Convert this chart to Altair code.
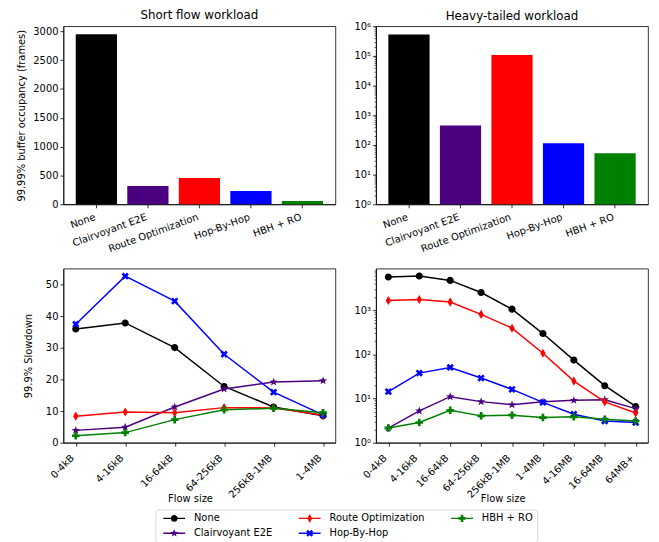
import math
import altair as alt
import pandas as pd

# ---------------- data ----------------
series = ["None", "Clairvoyant E2E", "Route Optimization", "Hop-By-Hop", "HBH + RO"]
series_colors = ["#000000", "#4b0082", "#ff0000", "#0000ff", "#008000"]

short_buffer = [2948, 316, 454, 230, 57]
heavy_buffer = [525000, 451, 107000, 113, 52]

short_sizes = ["0-4kB", "4-16kB", "16-64kB", "64-256kB", "256kB-1MB", "1-4MB"]
short_none = [36.0, 37.9, 30.1, 17.8, 11.3, 8.5]
short_clair = [3.9, 4.9, 11.3, 17.0, 19.2, 19.6]
short_ro = [8.4, 9.7, 9.5, 11.1, 11.0, 8.8]
short_hbh = [37.5, 52.7, 44.8, 28.0, 16.0, 8.8]
short_hbhro = [2.2, 3.2, 7.3, 10.4, 10.9, 9.5]

heavy_sizes = ["0-4kB", "4-16kB", "16-64kB", "64-256kB", "256kB-1MB",
               "1-4MB", "4-16MB", "16-64MB", "64MB+"]
heavy_none = [5600, 5900, 4700, 2500, 1050, 295, 74, 19.5, 6.6]
heavy_clair = [2.14, 5.25, 11.0, 8.5, 7.2, 8.4, 9.1, 9.4, 5.9]
heavy_ro = [1650, 1740, 1520, 800, 390, 106, 24.8, 8.4, 4.7]
heavy_hbh = [14.3, 37.6, 50.5, 29.0, 16.1, 8.2, 4.4, 3.1, 2.87]
heavy_hbhro = [2.14, 2.87, 5.4, 4.05, 4.2, 3.7, 3.85, 3.4, 3.1]

short_slow = [short_none, short_clair, short_ro, short_hbh, short_hbhro]
heavy_slow = [heavy_none, heavy_clair, heavy_ro, heavy_hbh, heavy_hbhro]

# ---------------- marker shapes (pixel units, symbol size 4 -> scale 1) ----------------
def orient(pts):
    a = sum(pts[i][0] * pts[(i + 1) % len(pts)][1] - pts[(i + 1) % len(pts)][0] * pts[i][1]
            for i in range(len(pts)))
    return pts if a > 0 else pts[::-1]

def poly(pts, k=1.0):
    pts = orient(pts)
    return "M" + "L".join(f"{x * k:.3f},{y * k:.3f}" for x, y in pts) + "Z"

def circle(r):
    return f"M{r:.3f},0A{r:.3f},{r:.3f} 0 1,1 {-r:.3f},0A{r:.3f},{r:.3f} 0 1,1 {r:.3f},0Z"

def star(ro, ri):
    pts = []
    for i in range(10):
        ang = -math.pi / 2 + i * math.pi / 5
        r = ro if i % 2 == 0 else ri
        pts.append((r * math.cos(ang), r * math.sin(ang)))
    return pts

def xshape(a, h):
    d = h * math.sqrt(2)
    return [(-a, -a + d), (-a + d, -a), (0, -d), (a - d, -a), (a, -a + d), (d, 0),
            (a, a - d), (a - d, a), (0, d), (-a + d, a), (-a, a - d), (-d, 0)]

def plus(a, h):
    return [(-h, -a), (h, -a), (h, -h), (a, -h), (a, h), (h, h), (h, a), (-h, a),
            (-h, h), (-a, h), (-a, -h), (-h, -h)]

diamond = [(0, -4.6), (2.7, 0), (0, 4.6), (-2.7, 0)]

def marker_path(name, k=1.0):
    if name == "None":
        return circle(3.6 * k)
    if name == "Clairvoyant E2E":
        return poly(star(4.4, 1.8), k)
    if name == "Route Optimization":
        return poly(diamond, k)
    if name == "Hop-By-Hop":
        return poly(xshape(3.7, 1.35), k)
    return poly(plus(3.8, 1.35), k)

marker_paths = {s: marker_path(s) for s in series}
stub = poly([(-11, -0.75), (11, -0.75), (11, 0.75), (-11, 0.75)])
legend_paths = [stub + marker_path(s, 0.95) for s in series]
color_of = dict(zip(series, series_colors))

# ---------------- frames ----------------
bar_short = pd.DataFrame({"series": series, "value": short_buffer})
bar_heavy = pd.DataFrame({"series": series, "value": heavy_buffer})

def slow_df(sizes, vals):
    rows = []
    for s, v in zip(series, vals):
        for sz, y in zip(sizes, v):
            rows.append({"series": s, "size": sz, "value": y})
    return pd.DataFrame(rows)

df_short = slow_df(short_sizes, short_slow)
df_heavy = slow_df(heavy_sizes, heavy_slow)

# ---------------- axes ----------------
IS_MAJOR = "abs(log(datum.value)/LN10 - round(log(datum.value)/LN10)) < 1e-6"
SUP = "['\u2070','\u00b9','\u00b2','\u00b3','\u2074','\u2075','\u2076']"

def log_axis(top):
    vals = []
    k = 0
    while 10 ** k <= top:
        for m in range(1, 10):
            v = m * 10 ** k
            if v <= top:
                vals.append(v)
        k += 1
    return alt.Axis(
        values=vals, title=None, labelOverlap=False,
        labelExpr=f"{IS_MAJOR} ? '10' + {SUP}[round(log(datum.value)/LN10)] : ''",
        tickSize={"condition": {"test": IS_MAJOR, "value": 3.5}, "value": 2},
        tickWidth={"condition": {"test": IS_MAJOR, "value": 0.8}, "value": 0.6},
    )

bar_xaxis = alt.Axis(title=None, labelAngle=-20, labelAlign="right", labelBaseline="top",
                     labelOffset=-3, labelPadding=4)
line_xaxis = alt.Axis(title="Flow size", labelAngle=-45, labelAlign="right",
                      labelBaseline="middle", labelOffset=-3.5, labelPadding=10,
                      titleX=128, titleY=59, titleBaseline="alphabetic", titleAlign="center",
                      labelOverlap=False)

def bar_chart(df, title, yscale, yaxis, base_value=None):
    x = alt.X("series:N", scale=alt.Scale(domain=series, paddingInner=0.2, paddingOuter=0.24),
              axis=bar_xaxis)
    y = alt.Y("value:Q", scale=yscale, axis=yaxis)
    layers = []
    for s in series:
        enc = dict(x=x, y=y)
        if base_value is not None:
            enc["y2"] = alt.datum(base_value)
        layers.append(alt.Chart(df).transform_filter(alt.datum.series == s)
                      .mark_bar(color=color_of[s]).encode(**enc))
    return alt.layer(*layers, title=title).properties(width=275, height=180)

def line_chart(df, sizes, pad, yscale, yaxis, with_legend):
    base = alt.Chart(df)
    x = alt.X("size:N", scale=alt.Scale(type="point", domain=sizes, padding=pad), axis=line_xaxis)
    y = alt.Y("value:Q", scale=yscale, axis=yaxis)
    layers = []
    for s in series:
        sub = base.transform_filter(alt.datum.series == s)
        layers.append(sub.mark_line(strokeWidth=1.5, color=color_of[s]).encode(x=x, y=y))
        layers.append(sub.mark_point(shape=marker_paths[s], filled=True, size=4, opacity=1,
                                     strokeWidth=0, color=color_of[s]).encode(x=x, y=y))
    if with_legend:
        leg = alt.Legend(orient="none", legendX=93, legendY=488.5, columns=3, title=None,
                         labelFontSize=10, labelColor="black", labelFont="DejaVu Sans",
                         symbolSize=4, symbolOffset=10, labelOffset=15,
                         columnPadding=22, rowPadding=5, padding=4,
                         strokeColor="#d4d4d4", fillColor="white", cornerRadius=3,
                         symbolStrokeWidth=0, symbolOpacity=1)
        layers.append(
            base.transform_filter("false").mark_point(filled=True, size=4, opacity=1).encode(
                x=x, y=y,
                color=alt.Color("series:N", scale=alt.Scale(domain=series, range=series_colors),
                                legend=leg),
                shape=alt.Shape("series:N", scale=alt.Scale(domain=series, range=legend_paths),
                                legend=leg),
            )
        )
    return alt.layer(*layers).properties(width=275, height=176)

tl = bar_chart(bar_short, "Short flow workload", alt.Scale(domain=[0, 3087]),
               alt.Axis(title="99.99% buffer occupancy (frames)", format="d",
                        values=[0, 500, 1000, 1500, 2000, 2500, 3000]))
tr = bar_chart(bar_heavy, alt.TitleParams("Heavy-tailed workload", offset=-1.5),
               alt.Scale(type="log", domain=[1, 1e6]), log_axis(1e6), base_value=1)
bl = line_chart(df_short, short_sizes, 0.25, alt.Scale(domain=[0, 55.1]),
                alt.Axis(title="99.9% Slowdown", values=[0, 10, 20, 30, 40, 50], titlePadding=12),
                False)
br = line_chart(df_heavy, heavy_sizes, 0.4, alt.Scale(type="log", domain=[1, 8700]),
                log_axis(8700), True)

chart = alt.concat(
    tl, tr, bl, br, columns=2, spacing={"row": 65, "column": 41}, bounds="flush"
).properties(
    padding={"left": 8, "top": -2.5, "right": 2, "bottom": 2}
).configure(
    font="DejaVu Sans"
).configure_axis(
    labelFont="DejaVu Sans", labelFontSize=10, labelColor="black",
    titleFont="DejaVu Sans", titleFontSize=10, titleColor="black", titleFontWeight="normal",
    tickColor="black", tickSize=3.5, tickWidth=0.8, domainColor="black", domainWidth=0.8,
    grid=False, labelPadding=2, titlePadding=6,
).configure_view(
    stroke="black", strokeWidth=0.8
).configure_title(
    font="DejaVu Sans", fontSize=12, fontWeight="normal", color="black", offset=4, frame="group"
)

chart.save("out.html", embed_options={"renderer": "svg", "actions": False})
